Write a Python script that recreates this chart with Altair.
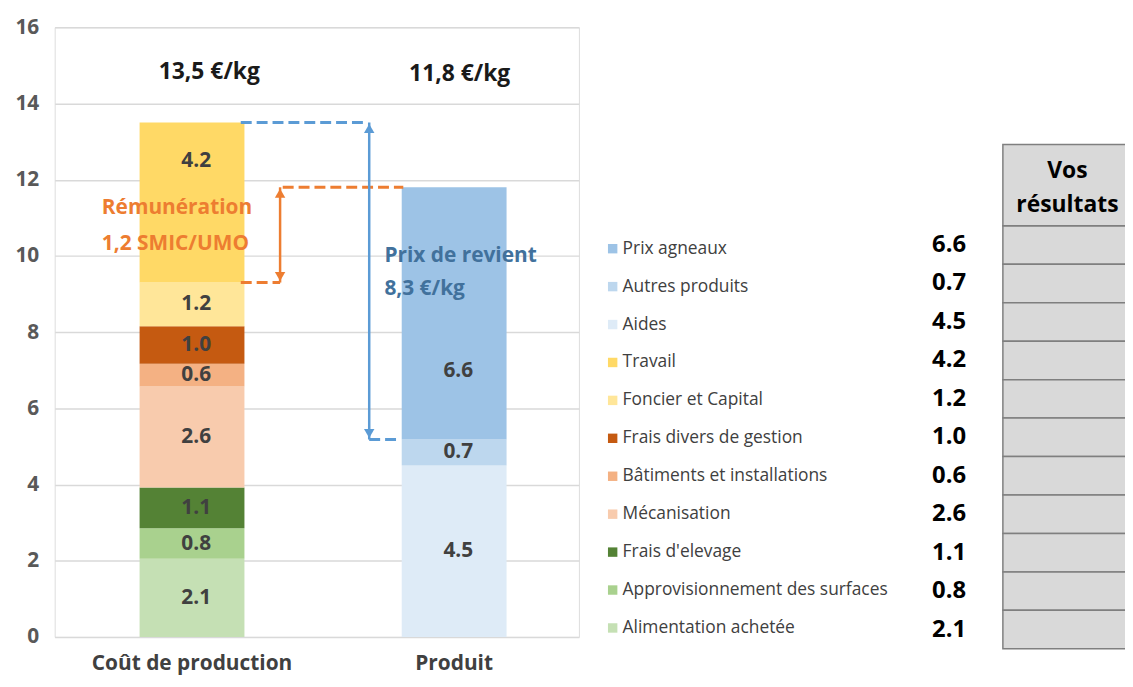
import altair as alt
import pandas as pd

# ---------------- data ----------------
categories = ["Prix agneaux", "Autres produits", "Aides", "Travail", "Foncier et Capital",
              "Frais divers de gestion", "Bâtiments et installations", "Mécanisation",
              "Frais d'elevage", "Approvisionnement des surfaces", "Alimentation achetée"]
groups = ["Produit"] * 3 + ["Coût de production"] * 8
values = [6.62, 0.68, 4.5, 4.2, 1.15, 0.98, 0.6, 2.65, 1.07, 0.8, 2.05]
labels = ["6.6", "0.7", "4.5", "4.2", "1.2", "1.0", "0.6", "2.6", "1.1", "0.8", "2.1"]
colors = ["#9DC3E6", "#BDD7EE", "#DEEBF7", "#FFD966", "#FFE699", "#C55A11",
          "#F4B183", "#F8CBAD", "#548235", "#A9D18E", "#C5E0B4"]
group_order = ["Coût de production", "Produit"]
# value labels that were moved inside their segment (clear of the notes)
moved_label = {"Travail": 12.5, "Prix agneaux": 6.98}

totals = ["13,5 €/kg", "11,8 €/kg"]
total_x = [0.59, 1.545]
total_y = [14.83, 14.77]

blue_dash_x = [0.71, 1.20]
blue_dash_x2 = [1.19, 1.31]
blue_dash_y = [13.5, 5.18]
orange_dash_x = [0.71, 0.87]
orange_dash_x2 = [0.86, 1.33]
orange_dash_y = [9.3, 11.8]

blue_arrow_x = [1.20]
blue_arrow_top = [13.5]
blue_arrow_bottom = [5.18]
orange_arrow_x = [0.86]
orange_arrow_top = [11.8]
orange_arrow_bottom = [9.3]

rem_lines = ["Rémunération", "1,2 SMIC/UMO"]
rem_x = [0.18, 0.18]
rem_y = [11.26, 10.32]
prix_lines = ["Prix de revient", "8,3 €/kg"]
prix_x = [1.258, 1.258]
prix_y = [10.0, 9.12]

y_ticks = [0, 2, 4, 6, 8, 10, 12, 14, 16]
table_header = "Vos\nrésultats"

FONT = "Open Sans"
BLUE = "#5B9BD5"
ORANGE = "#ED7D31"

# ---------------- frames ----------------
rows = []
for g in group_order:
    base = 0.0
    idx = [i for i in range(len(categories)) if groups[i] == g][::-1]
    for i in idx:
        c = categories[i]
        mid = moved_label.get(c, base + values[i] / 2)
        rows.append(dict(group=g, cat=c, value=values[i], label=labels[i],
                         y0=base, y1=base + values[i], mid=mid))
        base += values[i]
bars_df = pd.DataFrame(rows)
legend_df = pd.DataFrame(dict(cat=categories, label=labels))
totals_df = pd.DataFrame(dict(t=totals, x=total_x, y=total_y))
bdash_df = pd.DataFrame(dict(x=blue_dash_x, x2=blue_dash_x2, y=blue_dash_y))
odash_df = pd.DataFrame(dict(x=orange_dash_x, x2=orange_dash_x2, y=orange_dash_y))
barrow_df = pd.DataFrame(dict(x=blue_arrow_x, top=blue_arrow_top, bottom=blue_arrow_bottom))
oarrow_df = pd.DataFrame(dict(x=orange_arrow_x, top=orange_arrow_top, bottom=orange_arrow_bottom))
rem_df = pd.DataFrame(dict(t=rem_lines, x=rem_x, y=rem_y))
prix_df = pd.DataFrame(dict(t=prix_lines, x=prix_x, y=prix_y))

color_scale = alt.Scale(domain=categories, range=colors)
yscale = alt.Scale(domain=[0, 16], nice=False)
uscale = alt.Scale(domain=[0, 2], nice=False, zero=False)
band_scale = alt.Scale(domain=group_order, paddingInner=0.6, paddingOuter=0.3, align=0.54)


def Yq(field):
    return alt.Y(field, type="quantitative", scale=yscale, axis=None)


def Xu(field):
    return alt.X(field, type="quantitative", scale=uscale, axis=None)


xband = alt.X("group:N", sort=group_order, scale=band_scale,
              axis=alt.Axis(title=None, labelAngle=0, labelFontSize=21, labelColor="#404040",
                            labelFont=FONT, labelFontWeight="bold", domain=False, ticks=False,
                            labelPadding=27, labelLimit=500, labelBaseline="middle"))

bars = alt.Chart(bars_df).mark_bar().encode(
    x=xband,
    y=alt.Y("y0:Q", scale=yscale,
            axis=alt.Axis(values=y_ticks, title=None, grid=True, gridColor="#D9D9D9",
                          gridWidth=1.5, domain=False, ticks=False, labelPadding=16,
                          labelFontSize=21, labelColor="#595959", labelFont=FONT,
                          labelFontWeight="bold")),
    y2="y1:Q",
    color=alt.Color("cat:N", scale=color_scale, legend=None),
)

seg_text = alt.Chart(bars_df).mark_text(font=FONT, fontSize=21, fontWeight="bold",
                                        color="#404040", baseline="middle").encode(
    x=alt.X("group:N", sort=group_order, scale=band_scale, axis=None),
    y=Yq("mid"),
    text="label:N",
)

totals_text = alt.Chart(totals_df).mark_text(font=FONT, fontSize=23, fontWeight="bold",
                                             color="#1a1a1a", baseline="middle").encode(
    x=Xu("x"), y=Yq("y"), text="t:N")

bdash = alt.Chart(bdash_df).mark_rule(color=BLUE, strokeWidth=3, strokeDash=[11, 5]).encode(
    x=Xu("x"), x2="x2:Q", y=Yq("y"))
odash = alt.Chart(odash_df).mark_rule(color=ORANGE, strokeWidth=3, strokeDash=[11, 5]).encode(
    x=Xu("x"), x2="x2:Q", y=Yq("y"))

barrow = alt.Chart(barrow_df).mark_rule(color=BLUE, strokeWidth=2.5).encode(
    x=Xu("x"), y=Yq("top"), y2="bottom:Q")
barrow_up = alt.Chart(barrow_df).mark_point(shape="triangle-up", filled=True, size=110,
                                            color=BLUE, opacity=1, yOffset=6).encode(
    x=Xu("x"), y=Yq("top"))
barrow_dn = alt.Chart(barrow_df).mark_point(shape="triangle-down", filled=True, size=110,
                                            color=BLUE, opacity=1, yOffset=-6).encode(
    x=Xu("x"), y=Yq("bottom"))

oarrow = alt.Chart(oarrow_df).mark_rule(color=ORANGE, strokeWidth=2.5).encode(
    x=Xu("x"), y=Yq("top"), y2="bottom:Q")
oarrow_up = alt.Chart(oarrow_df).mark_point(shape="triangle-up", filled=True, size=110,
                                            color=ORANGE, opacity=1, yOffset=6).encode(
    x=Xu("x"), y=Yq("top"))
oarrow_dn = alt.Chart(oarrow_df).mark_point(shape="triangle-down", filled=True, size=110,
                                            color=ORANGE, opacity=1, yOffset=-6).encode(
    x=Xu("x"), y=Yq("bottom"))

rem_text = alt.Chart(rem_df).mark_text(font=FONT, fontSize=21, fontWeight="bold", color=ORANGE,
                                       align="left", baseline="middle").encode(
    x=Xu("x"), y=Yq("y"), text="t:N")
prix_text = alt.Chart(prix_df).mark_text(font=FONT, fontSize=21, fontWeight="bold",
                                         color="#41719C", align="left",
                                         baseline="middle").encode(
    x=Xu("x"), y=Yq("y"), text="t:N")

# ---------------- legend + table (right side) ----------------
leg_y = alt.Y("cat:N", sort=categories,
              scale=alt.Scale(type="point", domain=categories, range=[223, 605], padding=0),
              axis=None)
tab_y = alt.Y("cat:N", sort=categories,
              scale=alt.Scale(type="band", domain=categories, range=[200, 626],
                              paddingInner=0, paddingOuter=0),
              axis=None)

leg_sq = alt.Chart(legend_df).mark_square(size=90, opacity=1, filled=True).encode(
    x=alt.value(562), y=leg_y,
    color=alt.Color("cat:N", scale=color_scale, legend=None))
leg_txt = alt.Chart(legend_df).mark_text(font=FONT, fontSize=17.5, color="#404040",
                                         align="left", baseline="middle").encode(
    x=alt.value(572), y=leg_y, text="cat:N")

val_txt = alt.Chart(legend_df).mark_text(font=FONT, fontSize=24, fontWeight="bold",
                                         color="#000000", align="right",
                                         baseline="middle").encode(
    x=alt.value(918), y=tab_y, text="label:N")

tab_rect = alt.Chart(legend_df).mark_rect(fill="#D9D9D9", stroke="#7F7F7F",
                                          strokeWidth=1.5).encode(
    x=alt.value(955), x2=alt.value(1095), y=tab_y)

head_rect = alt.Chart(pd.DataFrame({"h": [table_header]})).mark_rect(
    fill="#D9D9D9", stroke="#7F7F7F", strokeWidth=1.5).encode(
    x=alt.value(955), x2=alt.value(1095), y=alt.value(118), y2=alt.value(200))
head_txt = alt.Chart(pd.DataFrame({"h": [table_header]})).mark_text(
    font=FONT, fontSize=23, fontWeight="bold", color="#000000", align="center",
    baseline="middle", lineBreak="\n", lineHeight=34).encode(
    x=alt.value(1020), y=alt.value(145), text="h:N")

chart = alt.layer(
    bars, seg_text, totals_text, bdash, odash, barrow, barrow_up, barrow_dn,
    oarrow, oarrow_up, oarrow_dn, rem_text, prix_text,
    leg_sq, leg_txt, tab_rect, val_txt, head_rect, head_txt,
).resolve_scale(x="independent", y="independent").properties(
    width=528, height=614,
    autosize=alt.AutoSizeParams(type="none"),
    padding={"left": 47, "top": 17, "right": 550, "bottom": 40},
    background="white",
).configure_view(stroke=None).configure(font=FONT)

chart.save("out.html", embed_options={"renderer": "svg", "actions": False})
